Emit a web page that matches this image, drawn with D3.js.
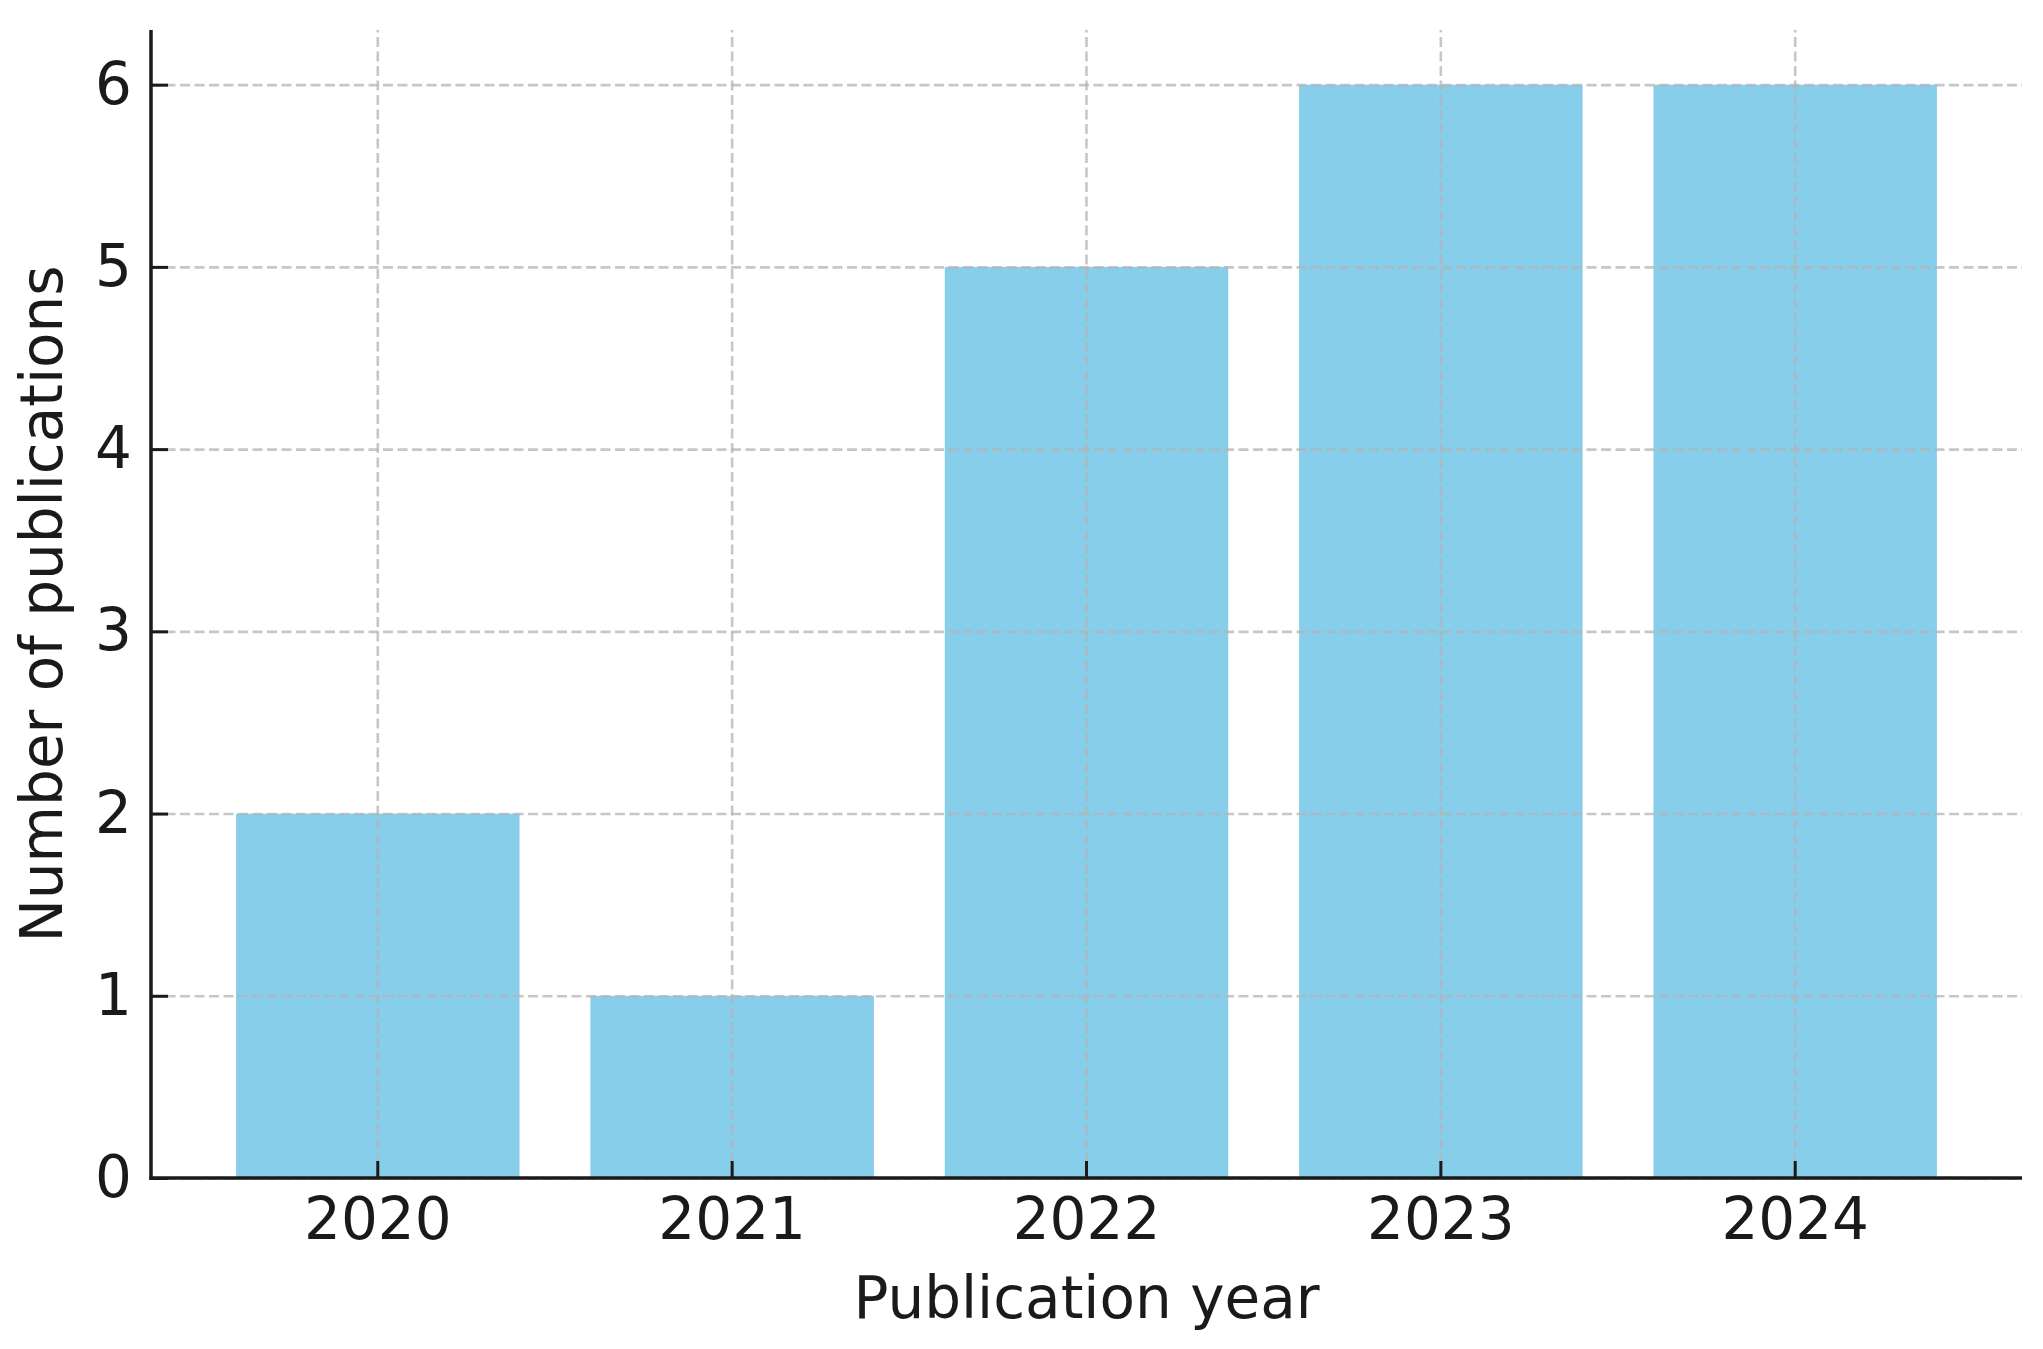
<!DOCTYPE html>
<html>
<head>
<meta charset="utf-8">
<script src="https://cdn.jsdelivr.net/npm/d3@7"></script>
<style>
  html, body { margin: 0; padding: 0; background: #fff; }
  svg { display: block; }
  .chart-axis text { font-family: 'DejaVu Sans', sans-serif; font-size: 58px; fill: #1a1a1a; }
  .chart-axis .domain { display: none; }
  .chart-axis line { stroke: #1a1a1a; stroke-width: 3; }
  .chart-grid line { stroke: #b4b4b4; stroke-width: 2.6; stroke-dasharray: 10 4.5; opacity: 0.75; }
  .chart-grid .domain { display: none; }
</style>
</head>
<body>
<div id="viz-container"></div>
<script>
// ── Data ─────────────────────────────────────────────────────
const years  = ['2020', '2021', '2022', '2023', '2024'];
const counts = [2, 1, 5, 6, 6];
const yTicks = [0, 1, 2, 3, 4, 5, 6];

const BAR_COLOR = '#87ceeb';
const INK       = '#1a1a1a';

const width  = 2043;
const height = 1349;
const margin = { top: 30, right: 21, bottom: 171, left: 151 };
const innerW = width  - margin.left - margin.right;
const innerH = height - margin.top  - margin.bottom;

const svg = d3.select('#viz-container')
  .append('svg')
  .attr('width',  width)
  .attr('height', height);

const g = svg.append('g')
  .attr('transform', `translate(${margin.left},${margin.top})`);

// ── Scales ───────────────────────────────────────────────────
const xScale = d3.scaleBand()
  .domain(years)
  .range([0, innerW])
  .paddingInner(0.2)
  .paddingOuter(0.24);

const yScale = d3.scaleLinear()
  .domain([0, 6.3])
  .range([innerH, 0]);

// ── Bars ─────────────────────────────────────────────────────
g.append('g')
  .selectAll('rect')
  .data(years.map((y, i) => ({ year: y, count: counts[i] })))
  .join('rect')
  .attr('x',      d => xScale(d.year))
  .attr('y',      d => yScale(d.count))
  .attr('width',  xScale.bandwidth())
  .attr('height', d => innerH - yScale(d.count))
  .attr('fill',   BAR_COLOR);

// ── Grid (drawn over bars) ───────────────────────────────────
g.append('g')
  .attr('class', 'chart-grid')
  .call(d3.axisLeft(yScale).tickValues(yTicks).tickSize(-innerW).tickFormat(''));

g.append('g')
  .attr('class', 'chart-grid')
  .attr('transform', `translate(0,${innerH})`)
  .call(d3.axisBottom(xScale).tickSize(innerH).tickFormat(''))
  .call(ax => ax.selectAll('.tick line').attr('y2', -innerH));

// ── Axes (ticks point inward) ────────────────────────────────
g.append('g')
  .attr('class', 'chart-axis')
  .attr('transform', `translate(0,${innerH})`)
  .call(d3.axisBottom(xScale).tickSize(-17).tickPadding(19))
  .call(ax => ax.selectAll('text').attr('dy', '0.72em'));

g.append('g')
  .attr('class', 'chart-axis')
  .call(d3.axisLeft(yScale).tickValues(yTicks).tickFormat(d3.format('d')).tickSize(-17).tickPadding(19));

// spines
g.append('line')
  .attr('x1', 0).attr('x2', 0).attr('y1', 0).attr('y2', innerH + 1.75)
  .attr('stroke', INK).attr('stroke-width', 3.5);
g.append('line')
  .attr('x1', -1.75).attr('x2', innerW).attr('y1', innerH).attr('y2', innerH)
  .attr('stroke', INK).attr('stroke-width', 3.5);

// ── Axis labels ──────────────────────────────────────────────
g.append('text')
  .attr('x', innerW / 2)
  .attr('y', 1318 - margin.top)
  .attr('text-anchor', 'middle')
  .attr('font-family', 'DejaVu Sans, sans-serif')
  .attr('font-size', 58)
  .attr('fill', INK)
  .text('Publication year');

g.append('text')
  .attr('transform', 'rotate(-90)')
  .attr('x', -innerH / 2)
  .attr('y', 62 - margin.left)
  .attr('text-anchor', 'middle')
  .attr('font-family', 'DejaVu Sans, sans-serif')
  .attr('font-size', 58)
  .attr('fill', INK)
  .text('Number of publications');
</script>
</body>
</html>
